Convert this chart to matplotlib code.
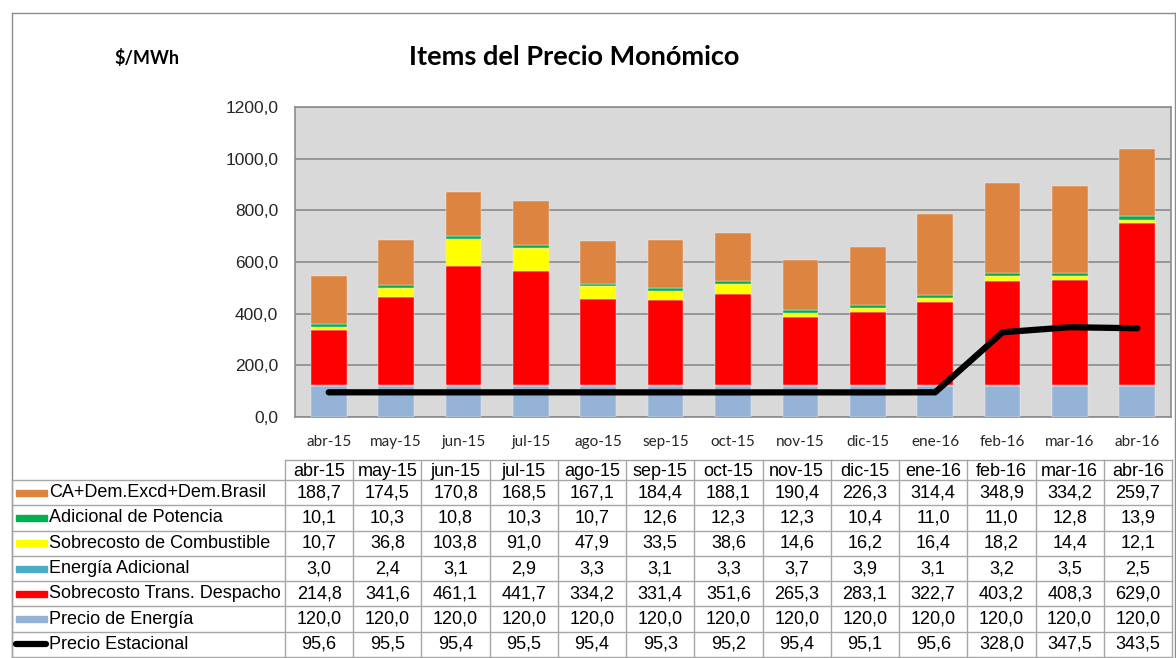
"""Items del Precio Monómico: stacked bars + seasonal price line, with data table below."""

import matplotlib

matplotlib.use("Agg")
import matplotlib.pyplot as plt
import numpy as np
from matplotlib.lines import Line2D
from matplotlib.patches import Rectangle

months = ["abr-15", "may-15", "jun-15", "jul-15", "ago-15", "sep-15", "oct-15",
          "nov-15", "dic-15", "ene-16", "feb-16", "mar-16", "abr-16"]

ca_dem = [188.7, 174.5, 170.8, 168.5, 167.1, 184.4, 188.1, 190.4, 226.3, 314.4, 348.9, 334.2, 259.7]
adic_potencia = [10.1, 10.3, 10.8, 10.3, 10.7, 12.6, 12.3, 12.3, 10.4, 11.0, 11.0, 12.8, 13.9]
sobre_comb = [10.7, 36.8, 103.8, 91.0, 47.9, 33.5, 38.6, 14.6, 16.2, 16.4, 18.2, 14.4, 12.1]
energia_adic = [3.0, 2.4, 3.1, 2.9, 3.3, 3.1, 3.3, 3.7, 3.9, 3.1, 3.2, 3.5, 2.5]
sobre_trans = [214.8, 341.6, 461.1, 441.7, 334.2, 331.4, 351.6, 265.3, 283.1, 322.7, 403.2, 408.3, 629.0]
precio_energia = [120.0] * 13
precio_estacional = [95.6, 95.5, 95.4, 95.5, 95.4, 95.3, 95.2, 95.4, 95.1, 95.6, 328.0, 347.5, 343.5]

# stacking order bottom -> top
stack = [
    ("Precio de Energía", precio_energia, "#95B3D7"),
    ("Energía Adicional", energia_adic, "#4BACC6"),
    ("Sobrecosto Trans. Despacho", sobre_trans, "#FF0000"),
    ("Sobrecosto de Combustible", sobre_comb, "#FFFF00"),
    ("Adicional de Potencia", adic_potencia, "#00B050"),
    ("CA+Dem.Excd+Dem.Brasil", ca_dem, "#DD8440"),
]

W, H = 1176, 658
fig = plt.figure(figsize=(W / 100, H / 100), dpi=100)


def fx(px):
    return px / W


def fy(py):
    return 1 - py / H


def hline(x0, x1, y, color="#A6A6A6", lw=1.0):
    fig.add_artist(Line2D([fx(x0), fx(x1)], [fy(y), fy(y)], transform=fig.transFigure,
                          color=color, lw=lw))


def vline(x, y0, y1, color="#A6A6A6", lw=1.0):
    fig.add_artist(Line2D([fx(x), fx(x)], [fy(y0), fy(y1)], transform=fig.transFigure,
                          color=color, lw=lw))


# outer chart border
hline(12, 1175, 13, color="#8C8C8C")
vline(12, 13, 657, color="#8C8C8C")
vline(1175, 13, 657, color="#8C8C8C")

# plot area
L, R, T, B = 295, 1171, 107, 417
ax = fig.add_axes([fx(L), fy(B), fx(R - L), (B - T) / H])
ax.set_facecolor("#D9D9D9")
x = np.arange(len(months))
bottom = np.zeros(len(months))
for name, vals, col in stack:
    ax.bar(x, vals, width=0.53, bottom=bottom, color=col, edgecolor="#EDEDED",
           linewidth=0.3, zorder=3)
    bottom += np.array(vals)
ax.plot(x, precio_estacional, color="black", lw=4.5, solid_capstyle="round", zorder=4)

ax.set_xlim(-0.5, len(months) - 0.5)
ax.set_ylim(0, 1200)
ax.set_yticks(np.arange(0, 1201, 200))
ax.set_yticklabels([f"{v:.1f}".replace(".", ",") for v in np.arange(0, 1201, 200)],
                   fontsize=12.5, family="Liberation Sans", color="#262626")
ax.yaxis.grid(True, color="#8C8C8C", lw=1.2, zorder=1)
ax.tick_params(axis="y", length=0, pad=12)
ax.set_xticks(x)
ax.set_xticklabels(months, fontsize=11, family="Lato", color="#262626")
ax.tick_params(axis="x", length=0, pad=13)
for s in ax.spines.values():
    s.set_color("#8C8C8C")
    s.set_linewidth(1.2)

# titles
fig.text(fx(574), fy(57), "Items del Precio Monómico", ha="center", va="center",
         fontsize=19.5, fontweight="bold", family="Lato", color="black")
fig.text(fx(147), fy(58), "$/MWh", ha="center", va="center",
         fontsize=13, fontweight="bold", family="Lato", color="black")

# data table
tx0, tcol, tx1 = 12, 285, 1172
ncol = len(months)
cw = (tx1 - tcol) / ncol
head_top, head_bot = 460, 480
rh = (657 - head_bot) / 7
tfont = dict(fontsize=13, family="Liberation Sans", color="black")

rows = [
    ("CA+Dem.Excd+Dem.Brasil", ca_dem, "#DD8440"),
    ("Adicional de Potencia", adic_potencia, "#00B050"),
    ("Sobrecosto de Combustible", sobre_comb, "#FFFF00"),
    ("Energía Adicional", energia_adic, "#4BACC6"),
    ("Sobrecosto Trans. Despacho", sobre_trans, "#FF0000"),
    ("Precio de Energía", precio_energia, "#95B3D7"),
    ("Precio Estacional", precio_estacional, "black"),
]

lc = "#A6A6A6"
hline(tcol, tx1, head_top, color=lc)
for i in range(len(rows) + 1):
    hline(tx0, tx1, head_bot + i * rh, color=lc)
vline(tx0, head_bot, 657, color=lc)
for j in range(ncol + 1):
    vline(tcol + j * cw, head_top, 657, color=lc)

for j, m in enumerate(months):
    fig.text(fx(tcol + (j + 0.5) * cw), fy((head_top + head_bot) / 2 + 1), m,
             ha="center", va="center", **tfont)

for i, (name, vals, col) in enumerate(rows):
    yc = head_bot + (i + 0.5) * rh
    if col == "black":
        fig.add_artist(Line2D([fx(16), fx(46)], [fy(yc), fy(yc)], transform=fig.transFigure,
                              color=col, lw=4.5, solid_capstyle="round"))
    else:
        fig.add_artist(Rectangle((fx(16), fy(yc + 3)), fx(31), 6 / H,
                                 transform=fig.transFigure, color=col))
    fig.text(fx(49), fy(yc), name, ha="left", va="center", **tfont)
    for j, v in enumerate(vals):
        fig.text(fx(tcol + (j + 0.5) * cw), fy(yc), f"{v:.1f}".replace(".", ","),
                 ha="center", va="center", **tfont)

fig.savefig("out.png", dpi=100)
